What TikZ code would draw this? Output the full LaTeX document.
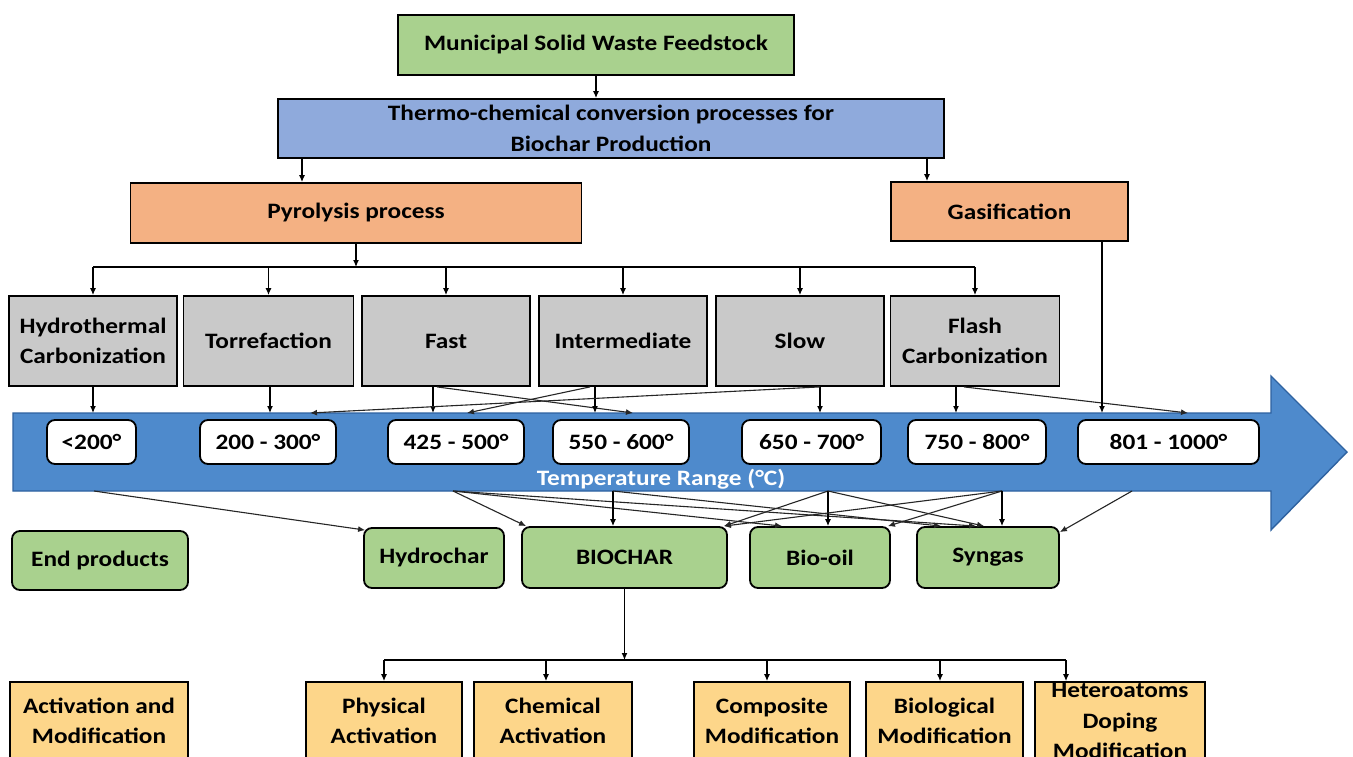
\documentclass[tikz,border=0pt]{standalone}
\usepackage{fontspec}
\setmainfont{Carlito}[FakeStretch=1.15]
\usetikzlibrary{arrows.meta,calc}
\definecolor{mswgreen}{RGB}{169,209,142}
\definecolor{thermoblue}{RGB}{143,170,220}
\definecolor{salmon}{RGB}{244,177,131}
\definecolor{boxgray}{RGB}{201,201,201}
\definecolor{prodgreen}{RGB}{169,209,142}
\definecolor{modyellow}{RGB}{253,214,138}
\definecolor{arrowblue}{RGB}{78,138,204}
\definecolor{arrowedge}{RGB}{46,98,160}
\tikzset{
  txt/.style={font=\fontsize{22}{30.5}\selectfont\bfseries, align=center, inner sep=0pt},
  sqbox/.style={txt, draw=black, line width=1.8pt},
  rbox/.style={txt, draw=black, line width=1.8pt, rounded corners=8pt},
  tbox/.style={rbox, fill=white, minimum height=44pt},
  gbox/.style={sqbox, fill=boxgray, minimum height=90pt},
  pbox/.style={rbox, fill=prodgreen, minimum height=60pt},
  ybox/.style={sqbox, fill=modyellow, minimum height=78pt},
  arr/.style={draw=black, line width=1.2pt, -{Latex[length=7pt,width=6pt]}},
  ln/.style={draw=black, line width=1.2pt},
  xarr/.style={draw=black!85, line width=1.1pt, -{Latex[length=7pt,width=6pt]}}
}
\begin{document}
\begin{tikzpicture}[x=1pt,y=-1pt]
\useasboundingbox (0,0) rectangle (1353,756);
\clip (0,0) rectangle (1353,756);
\fill[white] (0,0) rectangle (1353,756);

% top hierarchy
\node[sqbox, fill=mswgreen, minimum width=396pt, minimum height=60pt] (msw) at (596,45) {Municipal Solid Waste Feedstock};
\node[sqbox, fill=thermoblue, minimum width=666pt, minimum height=59pt] (thermo) at (611,128.5) {Thermo-chemical conversion processes for\\Biochar Production};
\node[sqbox, fill=salmon, minimum width=451pt, minimum height=60pt] (pyro) at (356,213) {Pyrolysis process};
\node[sqbox, fill=salmon, minimum width=237pt, minimum height=59pt] (gasi) at (1009.5,211.5) {Gasification};

% process boxes
\node[gbox, minimum width=168pt] (hydro) at (93,341) {Hydrothermal\\Carbonization};
\node[gbox, minimum width=170pt] (torr) at (268.5,341) {Torrefaction};
\node[gbox, minimum width=168pt] (fast) at (446,341) {Fast};
\node[gbox, minimum width=168pt] (inter) at (623,341) {Intermediate};
\node[gbox, minimum width=168pt] (slow) at (800,341) {Slow};
\node[gbox, minimum width=169pt] (flash) at (975,341) {Flash\\Carbonization};

% big temperature arrow
\draw[fill=arrowblue, draw=arrowedge, line width=1.4pt]
  (13,413) -- (1271,413) -- (1271,376) -- (1347,452) -- (1271,530) -- (1271,491) -- (13,491) -- cycle;
\coordinate (atop) at (0,413);
\coordinate (abot) at (0,491);
\node[txt, text=white] (trange) at (661,479) {Temperature Range (°C)};

% temperature boxes
\node[tbox, minimum width=89pt] (t1) at (91.5,442) {<200°};
\node[tbox, minimum width=136pt] (t2) at (268,442) {200 - 300°};
\node[tbox, minimum width=136pt] (t3) at (456,442) {425 - 500°};
\node[tbox, minimum width=136pt] (t4) at (621,442) {550 - 600°};
\node[tbox, minimum width=139pt] (t5) at (811.5,442) {650 - 700°};
\node[tbox, minimum width=138pt] (t6) at (977,442) {750 - 800°};
\node[tbox, minimum width=181pt] (t7) at (1168.5,442) {801 - 1000°};

% end products
\node[pbox, minimum width=176pt, minimum height=59pt] (endp) at (100,560.5) {End products};
\node[pbox, minimum width=140pt] (hydrochar) at (434,558) {Hydrochar};
\node[pbox, minimum width=205pt, minimum height=61pt] (biochar) at (624.5,557.5) {BIOCHAR};
\node[pbox, minimum width=140pt, minimum height=61pt] (biooil) at (820,557.5) {Bio-oil};
\node[pbox, minimum width=142pt, minimum height=61pt] (syngas) at (988,557.5) {Syngas};

% activation and modification
\node[ybox, minimum width=178pt] (actmod) at (99,721) {Activation and\\Modification};
\node[ybox, minimum width=156pt] (phys) at (384,721) {Physical\\Activation};
\node[ybox, minimum width=158pt] (chem) at (553,721) {Chemical\\Activation};
\node[ybox, minimum width=156pt] (comp) at (772,721) {Composite\\Modification};
\node[ybox, minimum width=157pt] (bio) at (944.5,721) {Biological\\Modification};
\node[ybox, minimum width=170pt] (het) at (1120,721) {Heteroatoms\\Doping\\Modification};

% top connectors
\draw[arr] (msw.south) -- (msw.south |- thermo.north);
\draw[arr] ([xshift=-54pt]pyro.north |- thermo.south) -- ([xshift=-54pt]pyro.north);
\draw[arr] ([xshift=-82.5pt]gasi.north |- thermo.south) -- ([xshift=-82.5pt]gasi.north);
\coordinate (tbus) at (0,267);
\draw[arr] (pyro.south) -- (pyro.south |- tbus);
\draw[ln] (hydro.north |- tbus) -- (flash.north |- tbus);
\foreach \n in {hydro,torr,fast,inter,slow,flash}
  \draw[arr] (\n.north |- tbus) -- (\n.north);

% process -> temperature
\draw[arr] (hydro.south) -- (hydro.south |- atop);
\draw[arr] ([xshift=1.5pt]torr.south) -- ([xshift=1.5pt]torr.south |- atop);
\draw[arr] ([xshift=-13pt]fast.south) -- ([xshift=-13pt]fast.south |- atop);
\draw[xarr] ([xshift=-9pt]fast.south) -- ([xshift=12pt]t4.north |- atop);
\draw[arr] ([xshift=-28pt]inter.south) -- ([xshift=-28pt]inter.south |- atop);
\draw[xarr] ([xshift=-33pt]inter.south) -- ([xshift=11pt]t3.north |- atop);
\draw[arr] ([xshift=20pt]slow.south) -- ([xshift=20pt]slow.south |- atop);
\draw[xarr] ([xshift=20pt]slow.south) -- ([xshift=42pt]t2.north |- atop);
\draw[arr] ([xshift=-19pt]flash.south) -- ([xshift=-19pt]flash.south |- atop);
\draw[xarr] ([xshift=-11pt]flash.south) -- ([xshift=19.5pt]t7.north |- atop);
\draw[arr] ([xshift=92.5pt]gasi.south) -- ([xshift=92.5pt]gasi.south |- atop);

% temperature -> products
\draw[xarr] ([xshift=2.5pt]t1.south |- abot) -- ([xshift=2pt,yshift=-3pt]hydrochar.north west);
\draw[xarr] ([xshift=-3pt]t3.south |- abot) -- ([xshift=5pt]biochar.north west);
\draw[xarr] ([xshift=-3pt]t3.south |- abot) -- ([xshift=33pt]biooil.north west);
\draw[xarr] ([xshift=-3pt]t3.south |- abot) -- ([xshift=60pt]syngas.north west);
\draw[arr] ([xshift=-8pt]t4.south |- abot) -- ([xshift=-8pt]t4.south |- biochar.north);
\draw[xarr] ([xshift=-8pt]t4.south |- abot) -- ([xshift=25pt]syngas.north west);
\draw[xarr] ([xshift=16.5pt]t5.south |- abot) -- ([xshift=-4pt]biochar.north east);
\draw[arr] ([xshift=16.5pt]t5.south |- abot) -- ([xshift=16.5pt]t5.south |- biooil.north);
\draw[xarr] ([xshift=16.5pt]t5.south |- abot) -- ([xshift=68pt]syngas.north west);
\draw[xarr] ([xshift=25pt]t6.south |- abot) -- ([xshift=-4pt]biochar.north east);
\draw[xarr] ([xshift=25pt]t6.south |- abot) -- ([xshift=-3pt]biooil.north east);
\draw[arr] ([xshift=25pt]t6.south |- abot) -- ([xshift=25pt]t6.south |- syngas.north);
\draw[xarr] ([xshift=-36.5pt]t7.south |- abot) -- ([yshift=-6pt]syngas.north east);

% biochar -> modifications
\coordinate (bbus) at (0,660);
\draw[arr] (biochar.south) -- (biochar.south |- bbus);
\draw[ln] (phys.north |- bbus) -- ([xshift=-54pt]het.north |- bbus);
\draw[arr] (phys.north |- bbus) -- (phys.north);
\draw[arr] ([xshift=-7pt]chem.north |- bbus) -- ([xshift=-7pt]chem.north);
\draw[arr] ([xshift=-5pt]comp.north |- bbus) -- ([xshift=-5pt]comp.north);
\draw[arr] ([xshift=-4.5pt]bio.north |- bbus) -- ([xshift=-4.5pt]bio.north);
\draw[arr] ([xshift=-54pt]het.north |- bbus) -- ([xshift=-54pt]het.north);
\end{tikzpicture}
\end{document}
